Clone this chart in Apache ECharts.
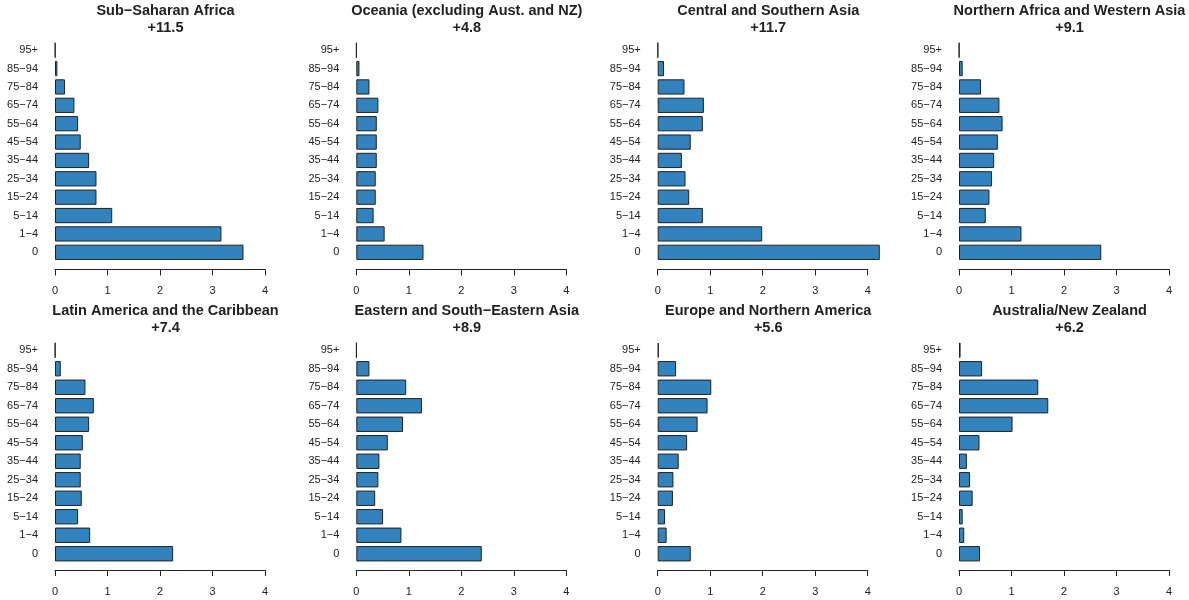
<!DOCTYPE html>
<html>
<head>
<meta charset="utf-8">
<script src="https://cdn.jsdelivr.net/npm/echarts@6/dist/echarts.min.js"></script>
<style>
  html, body { margin: 0; padding: 0; background: #ffffff; }
  #chart { width: 1189px; height: 600px; }
</style>
</head>
<body>
<div id="chart"></div>
<script>
// ---- data ----
const ageGroups = ['0', '1−4', '5−14', '15−24', '25−34', '35−44', '45−54', '55−64', '65−74', '75−84', '85−94', '95+'];
const xTicks = [0, 1, 2, 3, 4];

const regionNames = [
  'Sub−Saharan Africa',
  'Oceania (excluding Aust. and NZ)',
  'Central and Southern Asia',
  'Northern Africa and Western Asia',
  'Latin America and the Caribbean',
  'Eastern and South−Eastern Asia',
  'Europe and Northern America',
  'Australia/New Zealand'
];
const regionTotals = ['+11.5', '+4.8', '+11.7', '+9.1', '+7.4', '+8.9', '+5.6', '+6.2'];

// values ordered as ageGroups (0 first ... 95+ last)
const subSaharanAfrica     = [3.59, 3.17, 1.09, 0.79, 0.79, 0.65, 0.49, 0.44, 0.37, 0.19, 0.045, 0.006];
const oceaniaExclAustNZ    = [1.28, 0.54, 0.33, 0.37, 0.37, 0.39, 0.39, 0.39, 0.42, 0.25, 0.06, 0.004];
const centralSouthernAsia  = [4.23, 1.99, 0.86, 0.60, 0.53, 0.46, 0.63, 0.86, 0.88, 0.51, 0.12, 0.005];
const northAfricaWestAsia  = [2.71, 1.19, 0.51, 0.58, 0.63, 0.67, 0.74, 0.83, 0.77, 0.42, 0.07, 0.005];
const latinAmericaCaribbean= [2.25, 0.67, 0.44, 0.51, 0.49, 0.49, 0.53, 0.65, 0.74, 0.58, 0.11, 0.005];
const eastSouthEastAsia    = [2.39, 0.86, 0.51, 0.36, 0.42, 0.44, 0.60, 0.89, 1.25, 0.95, 0.25, 0.005];
const europeNorthAmerica   = [0.63, 0.17, 0.14, 0.29, 0.30, 0.40, 0.56, 0.76, 0.95, 1.02, 0.35, 0.02];
const australiaNewZealand  = [0.40, 0.10, 0.07, 0.26, 0.21, 0.15, 0.39, 1.02, 1.70, 1.51, 0.44, 0.03];

const regionValues = [
  subSaharanAfrica, oceaniaExclAustNZ, centralSouthernAsia, northAfricaWestAsia,
  latinAmericaCaribbean, eastSouthEastAsia, europeNorthAmerica, australiaNewZealand
];

// ---- layout ----
const FONT = '"Liberation Sans", Arial, Helvetica, sans-serif';
const panelLeft = [55, 356.3, 657.7, 959];
const panelWidth = 210;
const rowTop = [41, 341];
const rowHeight = [220.5, 222];
const rowAxisOffset = [8, 7];
const rowTitleTop = [3, 303];

const grids = [], xAxes = [], yAxes = [], series = [], titles = [];

regionNames.forEach((name, i) => {
  const col = i % 4, row = Math.floor(i / 4);
  grids.push({
    left: panelLeft[col], top: rowTop[row],
    width: panelWidth, height: rowHeight[row],
    containLabel: false
  });
  xAxes.push({
    gridIndex: i, type: 'value',
    min: xTicks[0], max: xTicks[xTicks.length - 1], interval: 1,
    position: 'bottom', offset: rowAxisOffset[row],
    axisLine: { show: true, lineStyle: { color: '#222', width: 1 } },
    axisTick: { show: true, inside: false, length: 6, lineStyle: { color: '#222', width: 1 } },
    axisLabel: { show: true, margin: 16, fontSize: 11, color: '#222', fontFamily: FONT },
    splitLine: { show: false }
  });
  yAxes.push({
    gridIndex: i, type: 'category', data: ageGroups,
    axisLine: { show: false }, axisTick: { show: false },
    axisLabel: { show: true, margin: 17, fontSize: 11, color: '#222', fontFamily: FONT, interval: 0 },
    splitLine: { show: false }
  });
  series.push({
    type: 'bar', xAxisIndex: i, yAxisIndex: i,
    data: regionValues[i],
    barCategoryGap: '17%',
    clip: false,
    silent: true,
    itemStyle: { color: '#3182bd', borderColor: '#222', borderWidth: 1 }
  });
  titles.push({
    text: name + '\n' + regionTotals[i],
    left: panelLeft[col] + 110.5,
    top: rowTitleTop[row],
    textAlign: 'center',
    padding: 0,
    textStyle: { fontSize: 14.5, fontWeight: 'bold', lineHeight: 16.5, color: '#222', fontFamily: FONT }
  });
});

const chart = echarts.init(document.getElementById('chart'), null, { renderer: 'canvas' });
chart.setOption({
  backgroundColor: '#ffffff',
  animation: false,
  title: titles,
  grid: grids,
  xAxis: xAxes,
  yAxis: yAxes,
  series: series
});
</script>
</body>
</html>
